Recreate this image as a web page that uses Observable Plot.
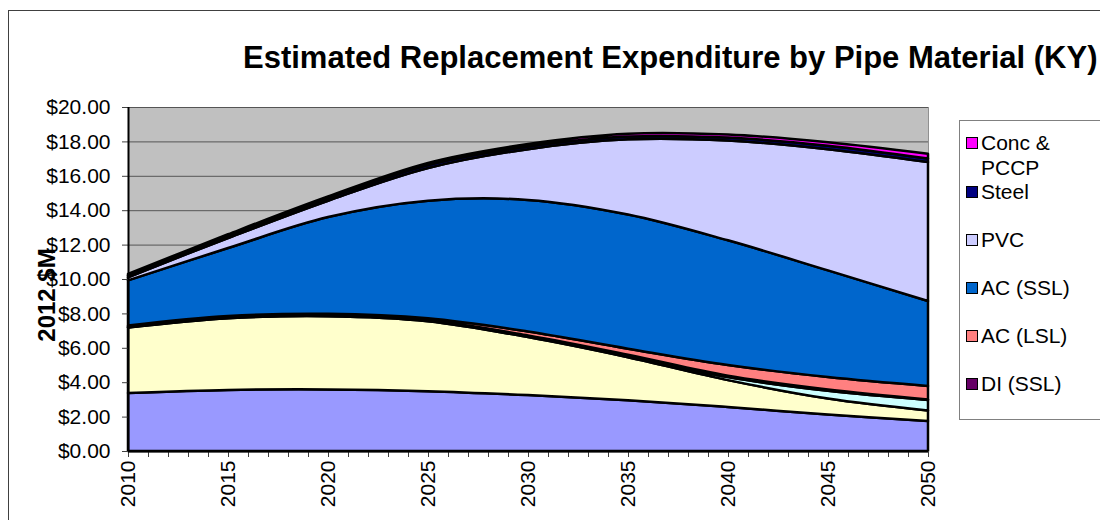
<!DOCTYPE html>
<html>
<head>
<meta charset="utf-8">
<script src="https://cdn.jsdelivr.net/npm/d3@7"></script>
<script src="https://cdn.jsdelivr.net/npm/@observablehq/plot@0.6"></script>
<style>
  html, body { margin: 0; padding: 0; background: #fff; }
  #wrap { position: relative; width: 1100px; height: 520px; overflow: hidden; font-family: "Liberation Sans", Arial, sans-serif; }
  #wrap svg { position: absolute; left: 0; top: 0; }
  #border { position: absolute; left: 8px; top: 10px; width: 1200px; height: 700px; border-top: 1px solid #404040; border-left: 1px solid #404040; }
  #title { position: absolute; left: 243px; top: 40px; white-space: nowrap; font-weight: bold; font-size: 31px; line-height: 36px; color: #000; }
  #ylabel { position: absolute; left: 47px; top: 295px; transform: translate(-50%, -50%) rotate(-90deg); white-space: nowrap; font-weight: bold; font-size: 24px; color: #000; }
  #legend { position: absolute; left: 959px; top: 120px; width: 300px; height: 298px; border: 1px solid #808080; background: #fff; }
  .item { position: absolute; left: 6px; font-size: 21px; line-height: 25px; color: #000; white-space: nowrap; }
  .sw { position: absolute; left: 0; width: 10px; height: 10px; border: 1px solid #000; }
  .lt { position: absolute; left: 15px; top: 0; }
</style>
</head>
<body>
<div id="wrap">
  <div id="border"></div>
  <div id="title">Estimated Replacement Expenditure by Pipe Material (KY)</div>
  <div id="legend"></div>
  <div id="ylabel">2012 $M</div>
</div>
<script>
// ---- data ----
const years = [2010, 2015, 2020, 2025, 2030, 2035, 2040, 2045, 2050];
const ciLSL  = [3.37, 3.55, 3.58, 3.48, 3.25, 2.95, 2.56, 2.12, 1.74];
const ciSSL  = [3.81, 4.17, 4.26, 4.07, 3.37, 2.50, 1.56, 0.93, 0.62];
const diLSL  = [0.02, 0.02, 0.02, 0.03, 0.06, 0.10, 0.18, 0.45, 0.61];
const diSSL  = [0.02, 0.02, 0.02, 0.02, 0.04, 0.05, 0.08, 0.08, 0.03];
const acLSL  = [0.08, 0.09, 0.10, 0.12, 0.23, 0.35, 0.62, 0.72, 0.78];
const acSSL  = [2.62, 3.95, 5.62, 6.83, 7.65, 7.80, 7.25, 6.20, 4.94];
const pvc    = [0.18, 0.58, 0.95, 1.90, 2.95, 4.37, 5.80, 7.05, 8.08];
const steel  = [0.10, 0.12, 0.15, 0.18, 0.15, 0.16, 0.17, 0.20, 0.20];
const conc   = [0.10, 0.10, 0.10, 0.12, 0.15, 0.17, 0.18, 0.20, 0.28];

const materials = ["CI (LSL)", "CI (SSL)", "DI (LSL)", "DI (SSL)", "AC (LSL)", "AC (SSL)", "PVC", "Steel", "Conc & PCCP"];
const seriesValues = [ciLSL, ciSSL, diLSL, diSSL, acLSL, acSSL, pvc, steel, conc];
const colors = ["#9999FF", "#FFFFCC", "#CCFFFF", "#660066", "#FF8080", "#0066CC", "#CCCCFF", "#000080", "#FF00FF"];
const legendOrder = ["Conc & PCCP", "Steel", "PVC", "AC (SSL)", "AC (LSL)", "DI (SSL)"];
const legendText = ["Conc &<br>PCCP", "Steel", "PVC", "AC (SSL)", "AC (LSL)", "DI (SSL)"];
const yTicks = [0, 2, 4, 6, 8, 10, 12, 14, 16, 18, 20];
const xLabelTicks = [2010, 2015, 2020, 2025, 2030, 2035, 2040, 2045, 2050];
const xMinorTicks = d3.range(2010, 2051);

// ---- table ----
const table = [];
materials.forEach((m, i) => {
  years.forEach((yr, j) => table.push({year: yr, material: m, value: seriesValues[i][j]}));
});

const chart = Plot.plot({
  width: 1100,
  height: 520,
  marginLeft: 128,
  marginRight: 172,
  marginTop: 107,
  marginBottom: 69,
  style: {fontFamily: "Liberation Sans, Arial, sans-serif", fontSize: "21px", background: "transparent", color: "#000", overflow: "visible"},
  x: {domain: [2010, 2050]},
  y: {domain: [0, 20]},
  color: {domain: materials, range: colors},
  marks: [
    Plot.frame({fill: "#C0C0C0", stroke: "#909090"}),
    Plot.gridY(yTicks, {stroke: "#555", strokeOpacity: 1, strokeWidth: 1}),
    Plot.areaY(table, Plot.stackY({
      x: "year", y: "value", z: "material", fill: "material",
      order: materials, curve: "catmull-rom",
      stroke: "black", strokeWidth: 2.5, strokeLinejoin: "round"
    })),
    Plot.axisY(yTicks, {tickFormat: d => "$" + d.toFixed(2), tickSize: 6, tickPadding: 12, label: null, stroke: "#404040", fontSize: 21}),
    Plot.axisX(xMinorTicks, {tickFormat: () => "", tickSize: 6, label: null, stroke: "#404040"}),
    Plot.axisX(xLabelTicks, {tickFormat: d => String(d), tickRotate: -90, tickSize: 0, tickPadding: 9, label: null, fontSize: 21}),
    Plot.ruleX([2010], {stroke: "black", strokeWidth: 2}),
    Plot.ruleY([0], {stroke: "black", strokeWidth: 2})
  ]
});
document.getElementById("wrap").insertBefore(chart, document.getElementById("border"));

// ---- legend ----
const legend = document.getElementById("legend");
const centers = [21, 70, 118, 166, 214, 262]; // relative to legend box top
legendOrder.forEach((name, k) => {
  const col = colors[materials.indexOf(name)];
  const item = document.createElement("div");
  item.className = "item";
  item.style.top = (centers[k] - 12.5) + "px";
  item.innerHTML = `<div class="sw" style="background:${col};top:7px"></div><div class="lt">${legendText[k]}</div>`;
  legend.appendChild(item);
});
</script>
</body>
</html>
